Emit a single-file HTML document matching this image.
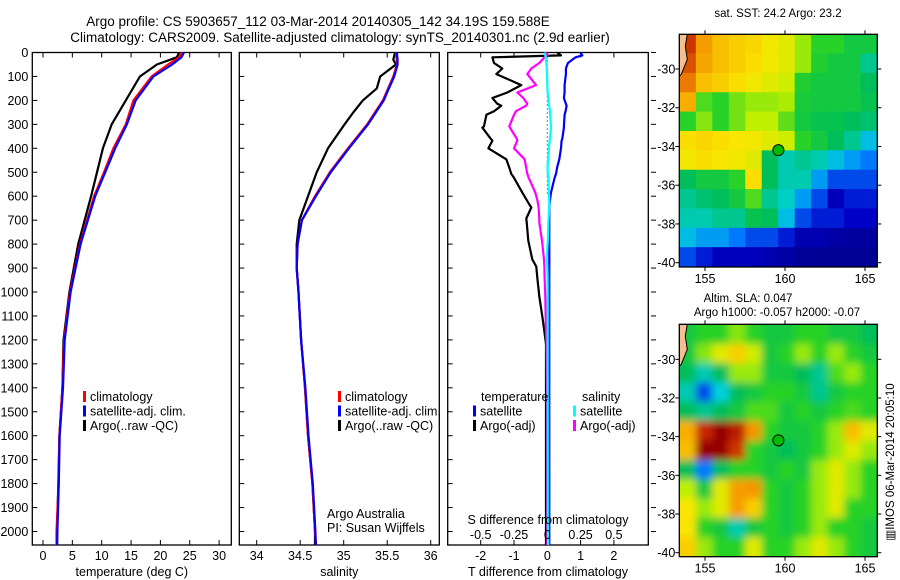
<!DOCTYPE html>
<html><head><meta charset="utf-8">
<style>
html,body{margin:0;padding:0;background:#fff;}
svg{display:block;font-family:"Liberation Sans",sans-serif;}
text{font-size:12.5px;fill:#000;}
</style></head>
<body>
<svg id="fig" width="900" height="580" viewBox="0 0 900 580" xmlns="http://www.w3.org/2000/svg">
<text x="318" y="26" text-anchor="middle" style="font-size:13.5px">Argo profile: CS 5903657_112 03-Mar-2014 20140305_142 34.19S 159.588E</text>
<text x="340" y="42" text-anchor="middle" style="font-size:13.5px">Climatology: CARS2009. Satellite-adjusted climatology: synTS_20140301.nc (2.9d earlier)</text>
<g id="g1"></g>
<g id="g2"></g>
<g id="g3"></g>
<g id="m1"></g>
<g id="m2"></g>
<text x="778" y="17" text-anchor="middle" style="font-size:11.5px">sat. SST: 24.2 Argo: 23.2</text>
<text x="748" y="302" text-anchor="middle" style="font-size:11.5px">Altim. SLA: 0.047</text>
<text x="777" y="316" text-anchor="middle" style="font-size:11.5px">Argo h1000: -0.057 h2000: -0.07</text>
<text transform="translate(894,462) rotate(-90)" text-anchor="middle" style="font-size:11.5px">▥IMOS 06-Mar-2014 20:05:10</text>
</svg>
<script>
// ---------- data ----------
const depthT = [0,20,50,100,200,300,400,500,600,800,1000,1200,1400,1600,1800,2000,2056];
const tempClim = [23.7,23.2,21.3,18.5,15.4,14.1,12.0,10.4,8.7,6.3,4.6,3.6,3.3,2.8,2.65,2.3,2.3];
const tempSat  = [24.0,23.6,22.0,18.8,15.8,14.3,12.3,10.6,8.9,6.4,4.7,3.7,3.4,2.85,2.7,2.45,2.4];
const tempArgo = [23.2,22.8,19.4,16.5,14.1,11.7,10.2,9.2,8.2,6.0,4.5,3.5,3.3,2.8,2.6,2.4,2.4];
const depthS = [0,30,50,100,150,200,250,300,400,500,600,700,800,900,1000,1200,1400,1600,1800,2000,2056];
const salClim = [35.60,35.61,35.61,35.57,35.51,35.45,35.36,35.27,35.05,34.84,34.67,34.52,34.47,34.46,34.48,34.51,34.555,34.59,34.64,34.67,34.68];
const salSat  = [35.61,35.62,35.62,35.58,35.52,35.46,35.37,35.28,35.06,34.85,34.68,34.52,34.47,34.46,34.48,34.51,34.56,34.595,34.645,34.675,34.68];
const salArgo = [35.59,35.57,35.60,35.42,35.38,35.22,35.11,35.01,34.82,34.69,34.59,34.49,34.46,34.46,34.48,34.51,34.555,34.59,34.64,34.67,34.67];
const depthD = [0,12,20,44,67,90,136,167,190,214,222,245,260,308,314,360,368,400,446,477,507,523,585,616,632,647,693,709,786,864,894,940,1018,1110,1172,1218,1481,1945,2056];
const dTargo = [0.3,0.41,-1.65,-1.6,-1.35,-1.53,-0.78,-1.2,-1.65,-1.5,-1.38,-1.6,-1.83,-1.9,-1.95,-1.7,-1.65,-1.77,-1.23,-1.15,-1.08,-1.0,-0.75,-0.62,-0.55,-0.48,-0.63,-0.62,-0.57,-0.45,-0.33,-0.3,-0.24,-0.14,-0.08,-0.04,-0.04,-0.04,-0.04];
const dTsat  = [1.0,1.05,0.85,0.62,0.56,0.56,0.52,0.52,0.5,0.56,0.58,0.55,0.52,0.5,0.5,0.45,0.43,0.41,0.36,0.3,0.26,0.22,0.11,0.08,0.07,0.06,0.06,0.06,0.06,0.06,0.06,0.06,0.06,0.06,0.06,0.06,0.06,0.06,0.06];
const dSargo = [-0.01,0,-0.02,-0.06,-0.12,-0.15,-0.085,-0.225,-0.18,-0.15,-0.16,-0.235,-0.25,-0.285,-0.28,-0.23,-0.225,-0.25,-0.17,-0.16,-0.15,-0.14,-0.09,-0.075,-0.07,-0.065,-0.06,-0.06,-0.04,-0.025,-0.022,-0.02,-0.015,-0.012,-0.01,-0.005,0,0,0];
const dSsat  = [-0.02,-0.015,-0.012,-0.008,-0.004,-0.002,0.0,0.002,0.008,0.012,0.014,0.02,0.022,0.028,0.028,0.02,0.018,0.012,0.006,0.002,0.004,0.008,0.012,0.014,0.015,0.014,0.01,0.008,0.004,-0.005,0.0,0.002,0.003,0.003,0.003,0.003,0.003,0.004,0.006];
const depthTicks = [0,100,200,300,400,500,600,700,800,900,1000,1100,1200,1300,1400,1500,1600,1700,1800,1900,2000];
const tempTicks = [0,5,10,15,20,25,30];
const salTicks = [34,34.5,35,35.5,36];
const salTickLabels = ["34","34.5","35","35.5","36"];
const dTTicks = [-2,-1,0,1,2];
const dSTicks = [-0.5,-0.25,0,0.25,0.5];
const dSTickLabels = ["-0.5","-0.25","0","0.25","0.5"];
const lonTicks = [155,160,165];
const latTicks = [-30,-32,-34,-36,-38,-40];
// map grids (normalised colour value 0..1), rows from north (-28.7) to south (-39.7), 12 cols 153.4..165.75
const sstGrid = [
[0.92,0.84,0.8,0.78,0.77,0.74,0.72,0.66,0.6,0.6,0.55,0.55],
[0.9,0.83,0.8,0.78,0.76,0.74,0.72,0.66,0.58,0.55,0.55,0.45],
[0.87,0.8,0.78,0.76,0.74,0.72,0.7,0.58,0.55,0.55,0.55,0.5],
[0.82,0.62,0.6,0.64,0.66,0.66,0.67,0.56,0.55,0.55,0.55,0.52],
[0.6,0.65,0.6,0.64,0.68,0.68,0.63,0.55,0.52,0.52,0.5,0.48],
[0.76,0.77,0.76,0.75,0.74,0.72,0.7,0.6,0.55,0.5,0.45,0.35],
[0.74,0.76,0.75,0.74,0.72,0.5,0.42,0.45,0.42,0.35,0.3,0.25],
[0.5,0.55,0.55,0.6,0.76,0.5,0.42,0.42,0.3,0.2,0.2,0.2],
[0.45,0.48,0.5,0.55,0.62,0.45,0.4,0.3,0.2,0.1,0.15,0.15],
[0.42,0.42,0.45,0.45,0.52,0.5,0.35,0.2,0.15,0.15,0.12,0.12],
[0.35,0.3,0.3,0.25,0.2,0.2,0.15,0.08,0.08,0.06,0.05,0.05],
[0.2,0.15,0.1,0.1,0.1,0.08,0.06,0.04,0.03,0.03,0.03,0.03]];
const slaGrid = [
[0.55,0.6,0.6,0.65,0.6,0.55,0.55,0.6,0.6,0.55,0.55,0.5],
[0.55,0.65,0.72,0.78,0.7,0.55,0.6,0.66,0.6,0.66,0.6,0.55],
[0.5,0.42,0.5,0.66,0.66,0.55,0.55,0.5,0.45,0.62,0.66,0.6],
[0.42,0.2,0.38,0.5,0.55,0.6,0.6,0.55,0.45,0.55,0.6,0.6],
[0.5,0.45,0.5,0.55,0.62,0.62,0.55,0.6,0.55,0.6,0.62,0.6],
[0.82,0.93,1.0,0.95,0.85,0.6,0.55,0.55,0.6,0.66,0.8,0.72],
[0.8,1.0,1.0,0.92,0.6,0.55,0.5,0.55,0.6,0.66,0.72,0.66],
[0.5,0.25,0.5,0.6,0.6,0.55,0.6,0.55,0.66,0.72,0.66,0.6],
[0.68,0.55,0.72,0.84,0.85,0.6,0.55,0.6,0.66,0.72,0.66,0.6],
[0.75,0.66,0.72,0.84,0.78,0.6,0.55,0.6,0.66,0.72,0.6,0.6],
[0.75,0.6,0.55,0.42,0.55,0.6,0.55,0.6,0.66,0.6,0.6,0.55],
[0.78,0.66,0.6,0.6,0.72,0.6,0.6,0.66,0.72,0.66,0.6,0.55]];
const argoLon = 159.588, argoLat = -34.19;

// ---------- helpers ----------
const NS="http://www.w3.org/2000/svg";
function mk(parent,tag,attrs){const e=document.createElementNS(NS,tag);for(const k in attrs)e.setAttribute(k,attrs[k]);parent.appendChild(e);return e;}
const yD = d => 52.5 + d*0.2395;
const TOP=52.5, BOT=545;

function panel(g,x0,x1,xs,xticks,xlabels,xtitle,withDepthLabels){
  const fr=mk(g,'rect',{x:x0,y:TOP,width:x1-x0,height:BOT-TOP,fill:'none',stroke:'#000','stroke-width':1.3});
  
  
  depthTicks.forEach(d=>{
    const y=yD(d);
    mk(g,'line',{x1:x0,x2:x0+5,y1:y,y2:y,stroke:'#000'});
    if(withDepthLabels){
      const t=mk(g,'text',{x:x0-4,y:y+4.5,'text-anchor':'end'});t.textContent=d;
      
      
    }
  });
  xticks.forEach((v,i)=>{
    const x=xs(v);
    mk(g,'line',{x1:x,x2:x,y1:BOT,y2:BOT-5,stroke:'#000'});
    mk(g,'line',{x1:x,x2:x,y1:TOP,y2:TOP+5,stroke:'#000'});
    const t=mk(g,'text',{x:x,y:560,'text-anchor':'middle'});t.textContent=xlabels[i];
    
    
  });
  const tt=mk(g,'text',{x:(x0+x1)/2,y:576,'text-anchor':'middle'});tt.textContent=xtitle;
  
  
}
function line(g,xs,vals,depths,color,w,name){
  const pts=vals.map((v,i)=>xs(v).toFixed(1)+','+yD(depths[i]).toFixed(1)).join(' ');
  const p=mk(g,'polyline',{points:pts,fill:'none',stroke:color,'stroke-width':w,'stroke-linejoin':'round'});
  
  
}
function legend(g,x,y,items){
  items.forEach((it,i)=>{
    mk(g,'rect',{x:x,y:y+i*14.5-10,width:3,height:11,fill:it[1]});
    const t=mk(g,'text',{x:x+7,y:y+i*14.5});t.textContent=it[0];
    
    
  });
}

// ---------- panel 1 ----------
const g1=document.getElementById('g1');
const xT=v=>43+5.87*v;
panel(g1,32.3,231.3,xT,tempTicks,tempTicks.map(String),'temperature (deg C)',true);
line(g1,xT,tempArgo,depthT,'#000',2.2,'argo-temperature-line');
line(g1,xT,tempClim,depthT,'#f00',2.2,'climatology-temperature-line');
line(g1,xT,tempSat,depthT,'#00f',2.2,'satellite-temperature-line');
legend(g1,83,401,[['climatology','#f00'],['satellite-adj. clim.','#00f'],['Argo(..raw -QC)','#000']]);

// ---------- panel 2 ----------
const g2=document.getElementById('g2');
const xS=v=>256.7+87*(v-34);
panel(g2,239.3,439.3,xS,salTicks,salTickLabels,'salinity',false);
line(g2,xS,salArgo,depthS,'#000',2.2,'argo-salinity-line');
line(g2,xS,salClim,depthS,'#f00',2.2,'climatology-salinity-line');
line(g2,xS,salSat,depthS,'#00f',2.2,'satellite-salinity-line');
legend(g2,338,401,[['climatology','#f00'],['satellite-adj. clim.','#00f'],['Argo(..raw -QC)','#000']]);
const a1=mk(g2,'text',{x:327,y:518});a1.textContent='Argo Australia';


const a2=mk(g2,'text',{x:327,y:532});a2.textContent='PI: Susan Wijffels';



// ---------- panel 3 ----------
const g3=document.getElementById('g3');
const xDT=v=>547.3+33.3*v;
const xDS=v=>547.3+133.2*v;
panel(g3,447.7,648.3,xDT,dTTicks,dTTicks.map(String),'T difference from climatology',false);
depthTicks.forEach(d=>{mk(g3,'line',{x1:651,x2:656,y1:yD(d),y2:yD(d),stroke:'#000'});});
mk(g3,'line',{x1:xDT(0),x2:xDT(0),y1:TOP,y2:yD(590),stroke:'#000','stroke-dasharray':'1,3'});
line(g3,xDT,dTargo,depthD,'#000',2.2,'argo-temperature-diff-line');
line(g3,xDS,dSargo,depthD,'#f0f',2.2,'argo-salinity-diff-line');
line(g3,xDT,dTsat,depthD,'#00f',2.2,'satellite-temperature-diff-line');
line(g3,xDS,dSsat,depthD,'#0ff',2.2,'satellite-salinity-diff-line');
const lt=mk(g3,'text',{x:481,y:401});lt.textContent='temperature';


const ls=mk(g3,'text',{x:582,y:401});ls.textContent='salinity';


legend(g3,473,415.5,[['satellite','#00f'],['Argo(-adj)','#000']]);
legend(g3,573,415.5,[['satellite','#0ff'],['Argo(-adj)','#f0f']]);
const st=mk(g3,'text',{x:548,y:524,'text-anchor':'middle'});st.textContent='S difference from climatology';


dSTicks.forEach((v,i)=>{
  const t=mk(g3,'text',{x:xDS(v),y:539,'text-anchor':'middle'});t.textContent=dSTickLabels[i];
  
  
});

// ---------- maps ----------
const cmapStops=[[0,[0,0,130]],[0.12,[0,0,200]],[0.25,[0,120,255]],[0.38,[0,210,220]],[0.5,[0,190,90]],[0.6,[40,210,40]],[0.68,[190,240,0]],[0.75,[250,230,0]],[0.85,[245,150,0]],[0.93,[200,40,0]],[1,[150,0,0]]];
function cmap(v){
  for(let i=1;i<cmapStops.length;i++){
    if(v<=cmapStops[i][0]){
      const [a,ca]=cmapStops[i-1],[b,cb]=cmapStops[i];const f=(v-a)/(b-a);
      return 'rgb('+ca.map((c,k)=>Math.round(c+(cb[k]-c)*f)).join(',')+')';
    }
  }
  return 'rgb(150,0,0)';
}
function map(id,top,bot,lat30y,lat40y,grid,blur){
  const g=document.getElementById(id);
  const L=679.3,R=877.3;
  const xL=v=>705+16*(v-155);
  const yL=v=>lat30y+(lat40y-lat30y)*(v+30)/(-10);
  const cid='clip'+id;
  const cp=mk(mk(g,'defs',{}),'clipPath',{id:cid});mk(cp,'rect',{x:L,y:top,width:R-L,height:bot-top});
  const defs=g.querySelector('defs');
  if(blur){const f=mk(defs,'filter',{id:'bl'+id,x:'-10%',y:'-10%',width:'120%',height:'120%'});mk(f,'feGaussianBlur',{stdDeviation:4});}
  const cells=mk(g,'g',{'clip-path':'url(#'+cid+')'});
  const inner=mk(cells,'g',blur?{filter:'url(#bl'+id+')'}:{});
  const nr=grid.length,nc=grid[0].length;
  const lon0=153.4,lon1=165.75,lat0=-28.2,lat1=-40.2;
  grid.forEach((row,r)=>row.forEach((v,c)=>{
    const x=xL(lon0+(lon1-lon0)*c/nc),x2=xL(lon0+(lon1-lon0)*(c+1)/nc);
    const y=yL(lat0+(lat1-lat0)*r/nr),y2=yL(lat0+(lat1-lat0)*(r+1)/nr);
    const pad=blur?14:0;
    const rc=mk(inner,'rect',{x:x-(c==0?pad:0),y:y-(r==0?pad:0),width:x2-x+0.6+(c==0||c==nc-1?pad:0),height:y2-y+0.6+(r==0||r==nr-1?pad:0),fill:cmap(v)});
    
    
  }));
  // coastline
  mk(cells,'path',{d:`M${L},${top} L${L+8},${top} L${L+6},${top+12} L${L+8},${top+25} L${L+2},${top+40} L${L},${top+42} Z`,fill:'#f5c090',stroke:'#000'});
  mk(g,'rect',{x:L,y:top,width:R-L,height:bot-top,fill:'none',stroke:'#000','stroke-width':1.3});
  const m=mk(g,'circle',{cx:xL(argoLon),cy:yL(argoLat),r:5.5,fill:'#0b0',stroke:'#000'});
  
  
  lonTicks.forEach(v=>{
    mk(g,'line',{x1:xL(v),x2:xL(v),y1:top-4,y2:top,stroke:'#000'});
    mk(g,'line',{x1:xL(v),x2:xL(v),y1:bot,y2:bot+4,stroke:'#000'});
    const t=mk(g,'text',{x:xL(v),y:bot+16,'text-anchor':'middle'});t.textContent=v;
    
    
  });
  latTicks.forEach(v=>{
    mk(g,'line',{x1:L-4,x2:L,y1:yL(v),y2:yL(v),stroke:'#000'});
    mk(g,'line',{x1:R,x2:R+4,y1:yL(v),y2:yL(v),stroke:'#000'});
    const t=mk(g,'text',{x:L-4,y:yL(v)+4.5,'text-anchor':'end'});t.textContent=v;
    
    
  });
}
map('m1',34.3,267,69,262.7,sstGrid,false);
map('m2',324.3,556.7,359.3,552.7,slaGrid,true);
</script>
</body></html>
